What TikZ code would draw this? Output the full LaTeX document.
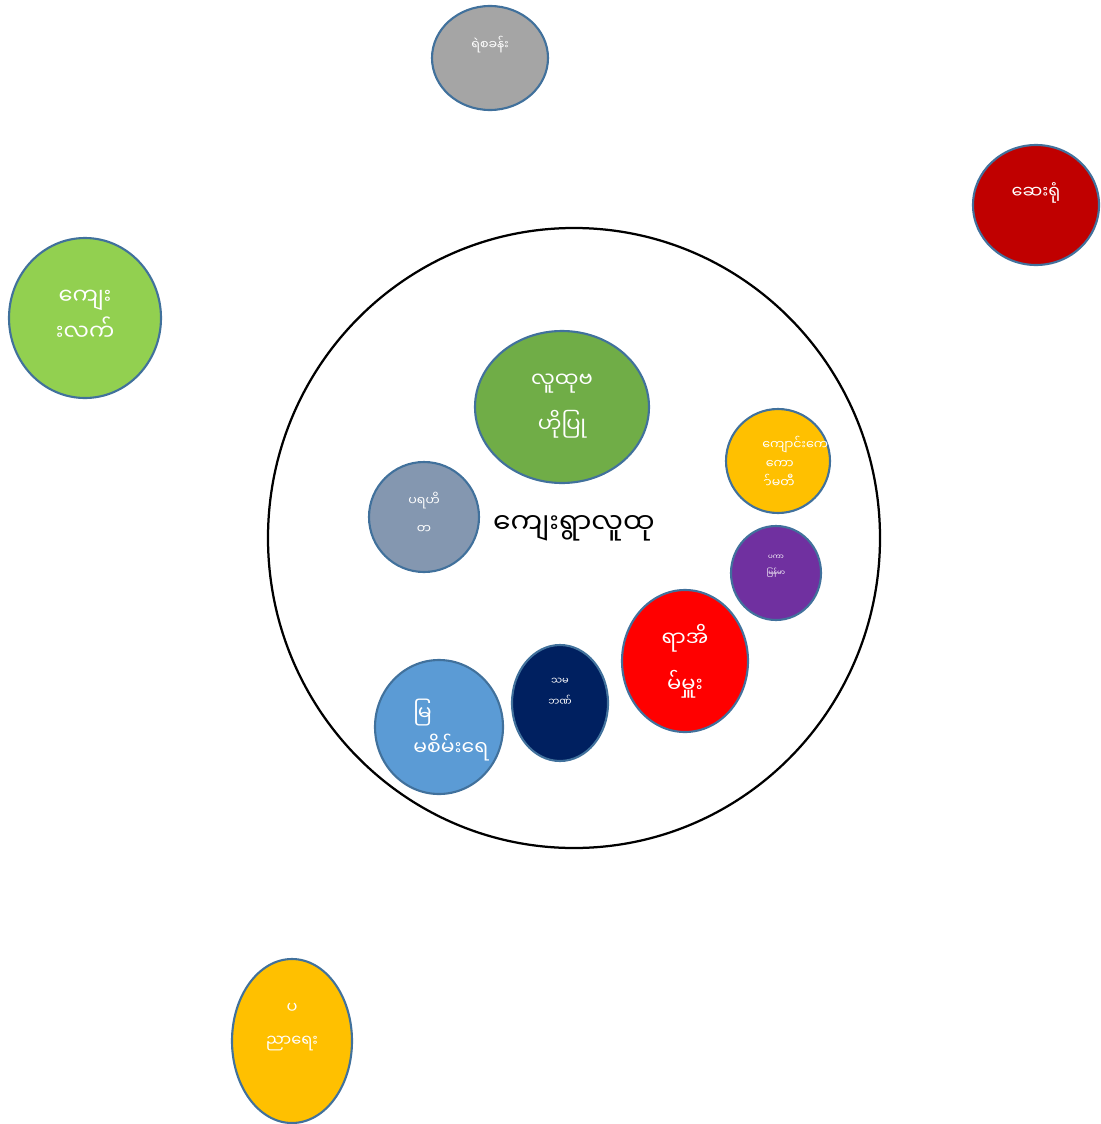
\documentclass[tikz,border=0pt]{standalone}
\usepackage{fontspec}
\newfontfamily\mmfont[Script=Myanmar]{Noto Sans Myanmar UI}
\usepackage{tikz}
\newcommand{\lonemark}[1]{\kern-0.25em^^^^00a0#1}

\begin{document}
\begin{tikzpicture}[x=0.025cm, y=-0.025cm,
    every node/.style={text=white, align=center, inner sep=0pt},
    txt/.style 2 args={font={\mmfont\fontsize{#1}{#2}\selectfont}},
    blob/.style={draw=edgeblue, line width=1.5pt}]
        \definecolor{edgeblue}{HTML}{41719C}
        \useasboundingbox (0,0) rectangle (1100,1124);

        % big community circle
        \draw[line width=1.6pt] (574,538) ellipse [x radius=306, y radius=310];

        % outer circles
        \filldraw[blob, fill={rgb,255:red,165;green,165;blue,165}] (490,58) ellipse [x radius=58, y radius=52];
        \filldraw[blob, fill={rgb,255:red,192;green,0;blue,0}] (1036,205) ellipse [x radius=63, y radius=60];
        \filldraw[blob, fill={rgb,255:red,146;green,208;blue,80}] (85,318) ellipse [x radius=76, y radius=80];
        \filldraw[blob, fill={rgb,255:red,255;green,192;blue,0}] (292,1041) ellipse [x radius=60, y radius=82];

        % inner circles
        \filldraw[blob, fill={rgb,255:red,112;green,173;blue,71}] (562,407) ellipse [x radius=87, y radius=76];
        \filldraw[blob, fill={rgb,255:red,255;green,192;blue,0}] (778,461) ellipse [x radius=52, y radius=52];
        \filldraw[blob, fill={rgb,255:red,132;green,151;blue,176}] (424,517) ellipse [x radius=55, y radius=55];
        \filldraw[blob, fill={rgb,255:red,112;green,48;blue,160}] (776,573) ellipse [x radius=45, y radius=47];
        \filldraw[blob, fill={rgb,255:red,255;green,0;blue,0}] (685,661) ellipse [x radius=63, y radius=71];
        \filldraw[blob, fill={rgb,255:red,91;green,155;blue,213}] (439,727) ellipse [x radius=64, y radius=67];
        \filldraw[blob, fill={rgb,255:red,0;green,32;blue,96}] (560,703) ellipse [x radius=48, y radius=58];

        % labels
        \node[txt={9}{11}] (police) at (490,45) {ရဲစခန်း};
        \node[txt={12.5}{15}] (hospital) at (1036,193) {ဆေးရုံ};
        \node[txt={16}{25.5}] (rural) at (85,315) {ကျေး\\\lonemark{း}လက်};
        \node[txt={11.5}{24}] (educ) at (292,1027) {ပ\\ညာရေး};
        \node[txt={20}{24}, text=black] (center) at (574,528) {ကျေးရွာလူထု};
        \node[txt={15}{32}] (based) at (562,406) {လူထုဗ\\ဟိုပြု};
        \node[txt={9}{13.5}, align=left, anchor=west] (school) at (762,462) {ကျောင်းကေ\\\hspace*{2.5pt}ကော\\\hspace*{2.5pt}\lonemark{ာ်}မတီ};
        \node[txt={9}{20}] (charity) at (424,513) {ပရဟိ\\တ};
        \node[txt={5}{11}] (pka) at (776,566) {ပကာ\\မြန်မာ};
        \node[txt={15}{32.5}] (head) at (685,661) {ရာအိ\\မ်မှူး};
        \node[txt={14.5}{25.5}, align=left, anchor=west] (water) at (413,730) {မြ\\မစိမ်းရေ};
        \node[txt={7}{15}] (bank) at (560,692) {သမ\\ဘဏ်};
    \end{tikzpicture}
\end{document}
